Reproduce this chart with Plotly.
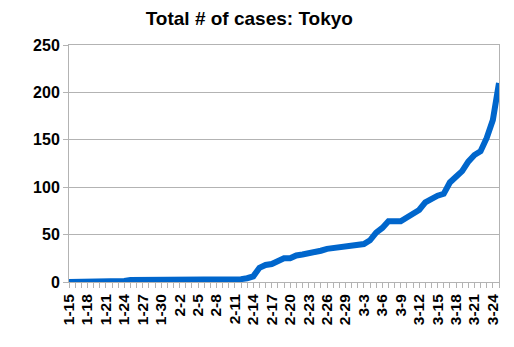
import plotly.graph_objects as go

dates = ["1-15","1-16","1-17","1-18","1-19","1-20","1-21","1-22","1-23","1-24",
         "1-25","1-26","1-27","1-28","1-29","1-30","1-31",
         "2-1","2-2","2-3","2-4","2-5","2-6","2-7","2-8","2-9","2-10",
         "2-11","2-12","2-13","2-14","2-15","2-16","2-17","2-18","2-19","2-20",
         "2-21","2-22","2-23","2-24","2-25","2-26","2-27","2-28","2-29",
         "3-1","3-2","3-3","3-4","3-5","3-6","3-7","3-8","3-9","3-10",
         "3-11","3-12","3-13","3-14","3-15","3-16","3-17","3-18","3-19","3-20",
         "3-21","3-22","3-23","3-24","3-25"]

cases = [0,0,0,0,0,0,0,0,0,1,
         2,2,2,2,2,3,3,
         3,3,3,3,3,3,3,3,3,3,
         3,3,4,6,15,18,19,22,25,25,
         28,29,30,32,33,35,36,37,37,
         39,39,40,44,52,57,64,64,64,68,
         73,76,84,88,91,93,105,111,117,127,
         134,138,152,171,210]

tick_labels = [d if i % 3 == 0 else "" for i, d in enumerate(dates)]

fig = go.Figure(go.Scatter(
    x=dates, y=cases, mode="lines",
    line=dict(color="#0066cc", width=6),
    hoverinfo="skip",
))

fig.update_layout(
    width=514, height=347,
    margin=dict(l=69, r=15, t=45, b=65),
    paper_bgcolor="white", plot_bgcolor="white",
    showlegend=False,
    title=dict(text="<b>Total # of cases: Tokyo</b>", x=0.485, xanchor="center",
               y=1 - 18/347, yanchor="middle",
               font=dict(family="Liberation Sans", size=19, color="black")),
    font=dict(family="Liberation Sans", color="black"),
)
fig.update_xaxes(
    type="category", range=[0, len(dates) - 1],
    tickmode="array", tickvals=dates,
    ticktext=["<b>" + t + "</b>" if t else "" for t in tick_labels],
    tickangle=-90, tickfont=dict(size=15.5, family="Liberation Sans", color="black"),
    ticks="outside", ticklen=5, tickcolor="#b3b3b3",
    showline=True, linecolor="#b3b3b3", linewidth=1, mirror=True,
    showgrid=False, zeroline=False,
)
fig.update_yaxes(
    range=[0, 250], dtick=50,
    tickfont=dict(size=16, family="Liberation Sans", color="black"),
    ticks="outside", ticklen=5, tickcolor="#b3b3b3",
    showline=True, linecolor="#b3b3b3", linewidth=1, mirror=True,
    showgrid=True, gridcolor="#b3b3b3", gridwidth=1, zeroline=False,
    tickprefix="<b>", ticksuffix="</b>",
)

fig.write_html("out.html")
